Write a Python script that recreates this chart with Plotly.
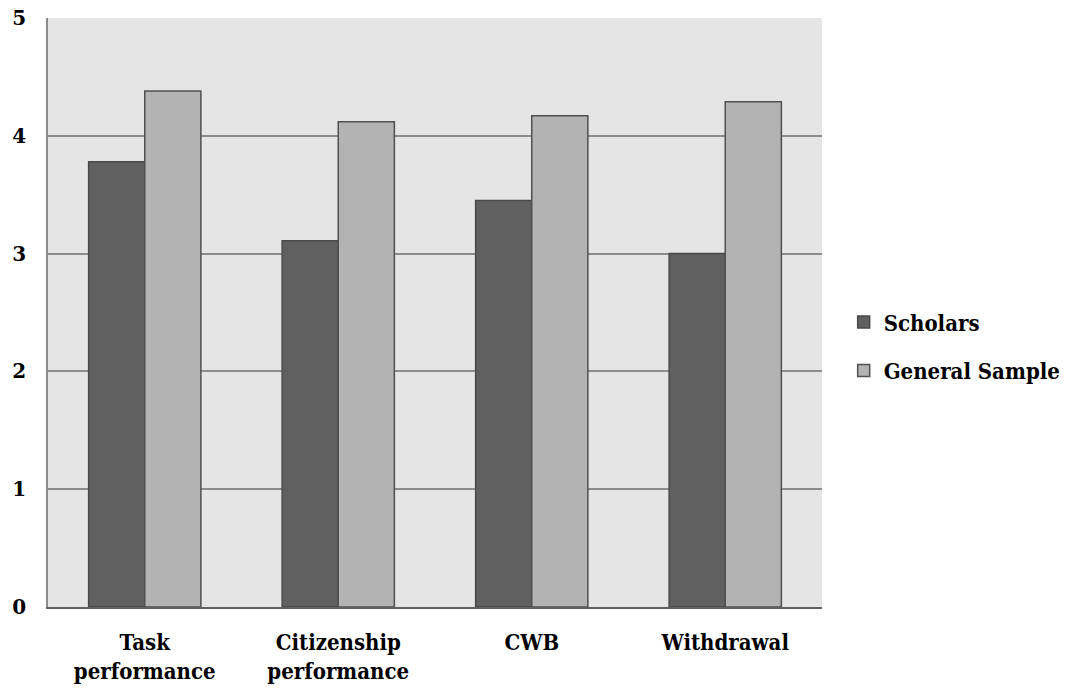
import plotly.graph_objects as go

categories = ["Task<br>performance", "Citizenship<br>performance", "CWB", "Withdrawal"]
scholars = [3.78, 3.11, 3.45, 3.00]
general_sample = [4.38, 4.12, 4.17, 4.29]
y_ticks = [0, 1, 2, 3, 4, 5]

FONT = "DejaVu Serif Condensed"

fig = go.Figure()
fig.add_trace(go.Bar(
    x=categories, y=scholars, name="Scholars", legendgroup="a",
    marker=dict(color="#606060", line=dict(color="#4a4a4a", width=1.5)),
))
fig.add_trace(go.Bar(
    x=categories, y=general_sample, name="General Sample", legendgroup="b",
    marker=dict(color="#b3b3b3", line=dict(color="#505050", width=1.5)),
))

fig.update_layout(
    width=1068, height=688,
    margin=dict(l=48, r=246, t=18, b=81, autoexpand=False),
    paper_bgcolor="white",
    plot_bgcolor="#e5e5e5",
    barmode="group",
    bargap=0.42,
    bargroupgap=0,
    font=dict(family=FONT, size=22, color="black", weight="bold"),
    showlegend=True,
    legend=dict(
        x=1.028, y=0.442, xanchor="left", yanchor="middle",
        font=dict(family=FONT, size=22, color="black", weight="bold"),
        bgcolor="rgba(0,0,0,0)", traceorder="grouped", tracegroupgap=17,
    ),
    xaxis=dict(
        showline=True, linecolor="#606060", linewidth=2,
        ticks="", tickfont=dict(family=FONT, size=22, color="black", weight="bold"),
        showgrid=False, automargin=False, ticklabelstandoff=15,
    ),
    yaxis=dict(
        range=[0, 5], tickvals=y_ticks,
        showgrid=True, gridcolor="#8c8c8c", gridwidth=1.5,
        showline=True, linecolor="#8c8c8c", linewidth=1.5,
        zeroline=False, ticks="", ticklabelstandoff=16,
        automargin=False,
        tickfont=dict(family="DejaVu Serif", size=20, color="black", weight="bold"),
    ),
)

fig.write_html("out.html")
